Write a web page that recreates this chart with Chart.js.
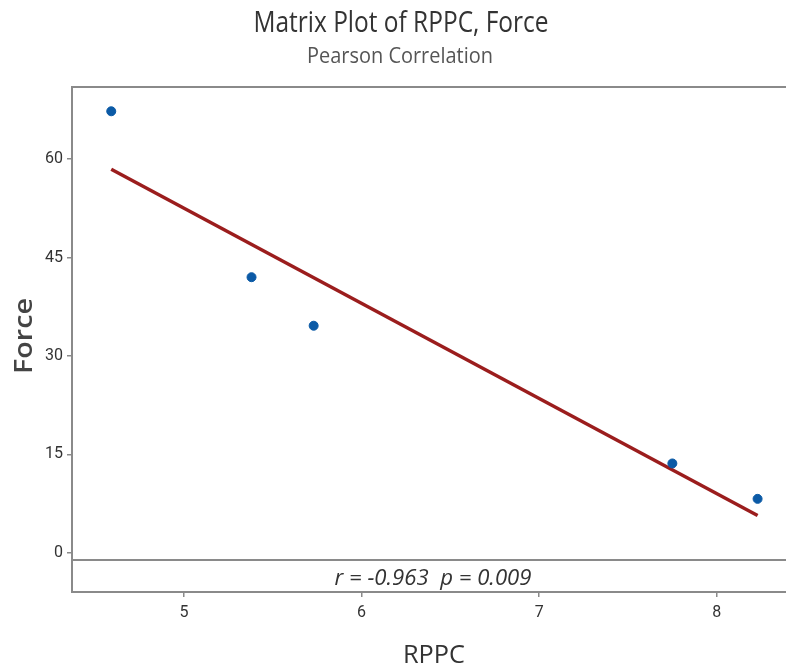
<!DOCTYPE html>
<html>
<head>
<meta charset="utf-8">
<script src="https://cdn.jsdelivr.net/npm/chart.js@4"></script>
<style>
  body { margin: 0; background: #fff; }
</style>
</head>
<body>
<canvas id="c" width="786" height="671"></canvas>
<script>
var rppc = [4.59, 5.38, 5.73, 7.75, 8.23]
var force = [67.3, 42.0, 34.6, 13.6, 8.2]
var xTicks = [5, 6, 7, 8]
var yTicks = [0, 15, 30, 45, 60]
var statText = "r = -0.963  p = 0.009"

// least squares fit for the red line
var n = rppc.length
var mx = rppc.reduce((a, b) => a + b) / n
var my = force.reduce((a, b) => a + b) / n
var sxy = 0, sxx = 0
rppc.forEach((x, i) => { sxy += (x - mx) * (force[i] - my); sxx += (x - mx) * (x - mx) })
var slope = sxy / sxx
var x0 = Math.min(...rppc), x1 = Math.max(...rppc)
var fit = [x0, x1].map(x => ({x: x, y: my + slope * (x - mx)}))

function fitText(ctx, txt, x, y, font, w, color, rot) {
  ctx.save()
  ctx.font = font
  ctx.fillStyle = color
  ctx.translate(x, y)
  if (rot) ctx.rotate(rot)
  ctx.scale(w / ctx.measureText(txt).width, 1)
  ctx.textAlign = "center"
  ctx.textBaseline = "alphabetic"
  ctx.fillText(txt, 0, 0)
  ctx.restore()
}

var frame = {
  id: "frame",
  afterDraw(chart) {
    var ctx = chart.ctx, a = chart.chartArea
    ctx.save()
    ctx.strokeStyle = "#8a8a8a"
    ctx.lineWidth = 2
    ctx.beginPath()
    ctx.moveTo(a.right, a.top); ctx.lineTo(a.left, a.top)
    ctx.lineTo(a.left, a.bottom); ctx.lineTo(a.right, a.bottom)
    ctx.moveTo(a.left, a.bottom - 32); ctx.lineTo(a.right, a.bottom - 32)
    ctx.stroke()
    ctx.restore()
    fitText(ctx, "Matrix Plot of RPPC, Force", 401, 32, "30px 'Open Sans'", 295, "#333")
    fitText(ctx, "Pearson Correlation", 400, 63, "21px 'Open Sans'", 186, "#555")
    fitText(ctx, statText, 433, a.bottom - 7, "italic 21px 'Open Sans'", 197, "#333")
    fitText(ctx, "RPPC", 434, 663, "25px 'Open Sans'", 62, "#333")
    fitText(ctx, "Force", 32, 336, "600 26px 'Open Sans'", 76, "#444", -Math.PI / 2)
  }
}

var tickFont = {family: "'Liberation Sans Narrow', Roboto, sans-serif", size: 16}

new Chart("c", {
  type: "scatter",
  data: {
    datasets: [{
      data: rppc.map((x, i) => ({x: x, y: force[i]})),
      backgroundColor: "#0b5aa6",
      borderColor: "#0b5aa6",
      pointRadius: 4.5,
      order: 0
    }, {
      data: fit,
      showLine: true,
      borderColor: "#9b1d1d",
      borderWidth: 3.5,
      pointRadius: 0,
      order: 1
    }]
  },
  options: {
    responsive: false,
    animation: false,
    layout: {autoPadding: false, padding: {top: 87, right: 0, left: 0, bottom: 0}},
    plugins: {legend: {display: false}, tooltip: {enabled: false}},
    scales: {
      x: {
        min: 4.369, max: 8.39,
        afterBuildTicks: s => { s.ticks = xTicks.map(v => ({value: v})) },
        afterFit: s => { s.height = 79 },
        grid: {drawOnChartArea: false, tickLength: 5, color: "#8a8a8a", lineWidth: 1.5},
        border: {display: false},
        ticks: {font: tickFont, color: "#333", padding: 6}
      },
      y: {
        min: -6, max: 71,
        afterBuildTicks: s => { s.ticks = yTicks.map(v => ({value: v})) },
        afterFit: s => { s.width = 72 },
        grid: {drawOnChartArea: false, tickLength: 5, color: "#8a8a8a", lineWidth: 1.5},
        border: {display: false},
        ticks: {font: tickFont, color: "#333", padding: 4}
      }
    }
  },
  plugins: [frame]
})
</script>
</body>
</html>
